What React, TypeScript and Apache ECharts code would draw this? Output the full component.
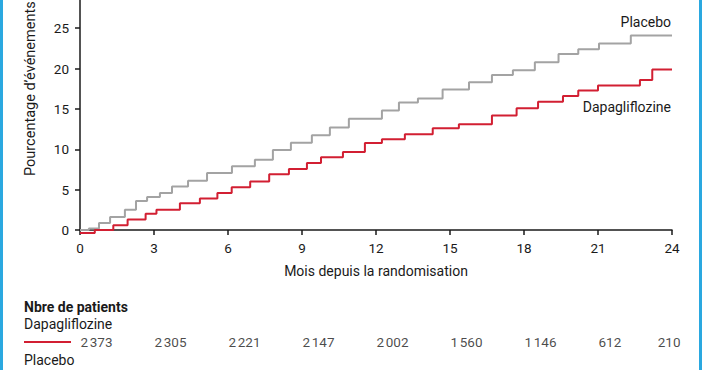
import React, { useEffect, useRef } from "react";
import * as echarts from "echarts";

// Kaplan-Meier style cumulative event curves (step points: time of jump, new value)
const placeboMonths = [0, 0.36, 0.77, 1.22, 1.82, 2.27, 2.72, 3.24, 3.73, 4.38, 5.15, 6.16, 7.09, 7.82, 8.55, 9.4, 10.13, 10.9, 12.24, 12.93, 13.7, 14.7, 15.77, 16.7, 17.55, 18.44, 19.4, 20.2, 21.04, 22.33, 24];
const placeboValues = [0, 0.2, 0.87, 1.6, 2.5, 3.6, 4.1, 4.6, 5.4, 6.1, 7.05, 7.9, 8.7, 9.9, 10.8, 11.75, 12.7, 13.8, 14.8, 15.8, 16.3, 17.4, 18.3, 19.2, 19.8, 20.8, 21.8, 22.4, 23.1, 24.1, 24.1];

const dapaMonths = [0, 0.6, 1.35, 1.93, 2.66, 3.1, 4.05, 4.86, 5.57, 6.15, 6.9, 7.67, 8.47, 9.2, 9.77, 10.66, 11.55, 12.24, 13.17, 14.3, 15.36, 16.7, 17.7, 18.57, 19.58, 20.2, 21.0, 22.7, 23.2, 24];
const dapaValues = [-0.37, 0, 0.6, 1.3, 2.0, 2.5, 3.3, 3.9, 4.6, 5.3, 6.0, 6.9, 7.55, 8.3, 9.03, 9.65, 10.77, 11.26, 11.85, 12.6, 13.1, 14.2, 15.1, 15.9, 16.6, 17.3, 17.9, 18.6, 19.9, 19.9];

const xTicks = [0, 3, 6, 9, 12, 15, 18, 21, 24];
const yTicks = [0, 5, 10, 15, 20, 25];
const atRiskDapa = ["2\u202F373", "2\u202F305", "2\u202F221", "2\u202F147", "2\u202F002", "1\u202F560", "1\u202F146", "612", "210"];

const FONT = "Roboto";
const TEXT = "#1a1a1a";
const GRAY = "#a3a3a3";
const RED = "#d21f32";
const BLUE = "#2aa8e0";

export default function App() {
  const ref = useRef<HTMLDivElement>(null);
  useEffect(() => {
    if (!ref.current) return;
    const chart = echarts.init(ref.current, undefined, { renderer: "svg" });
    const placeboData = placeboMonths.map((m, i) => [m, placeboValues[i]]);
    const dapaData = dapaMonths.map((m, i) => [m, dapaValues[i]]);
    const riskData = xTicks.map((m, i) => {
      const last = i === xTicks.length - 1;
      return {
        value: [m, 0.5],
        label: last
          ? { position: "left", distance: 0, offset: [9, 0] }
          : { position: "right", distance: 0 },
        name: atRiskDapa[i],
      };
    });
    chart.setOption({
      animation: false,
      textStyle: { fontFamily: FONT },
      grid: [
        { left: 80, right: 30, top: 0, height: 230, containLabel: false },
        { left: 80, right: 30, top: 330, height: 24, containLabel: false },
      ],
      xAxis: [
        {
          type: "value",
          min: 0,
          max: 24,
          interval: 3,
          gridIndex: 0,
          axisLine: { show: true, onZero: false, lineStyle: { color: TEXT, width: 1.5 } },
          axisTick: { show: true, length: 5, lineStyle: { color: TEXT, width: 1.5 } },
          axisLabel: { color: TEXT, fontSize: 13.5, margin: 11, fontFamily: FONT },
          splitLine: { show: false },
          name: "Mois depuis la randomisation",
          nameLocation: "middle",
          nameGap: 34,
          nameTextStyle: { color: TEXT, fontSize: 14, fontFamily: FONT },
        },
        { type: "value", min: 0, max: 24, gridIndex: 1, show: false },
      ],
      yAxis: [
        {
          type: "value",
          min: 0,
          max: 28.5,
          gridIndex: 0,
          axisLine: { show: true, lineStyle: { color: TEXT, width: 1.5 } },
          axisTick: { show: true, length: 5, customValues: yTicks, lineStyle: { color: TEXT, width: 1.5 } },
          axisLabel: { color: TEXT, fontSize: 13.5, margin: 11, customValues: yTicks, fontFamily: FONT },
          splitLine: { show: false },
        },
        { type: "value", min: 0, max: 1, gridIndex: 1, show: false },
      ],
      series: [
        {
          type: "line",
          name: "Placebo",
          step: "end",
          data: placeboData,
          showSymbol: false,
          symbol: "none",
          clip: false,
          lineStyle: { color: GRAY, width: 2 },
          z: 3,
        },
        {
          type: "line",
          name: "Dapagliflozine",
          step: "end",
          data: dapaData,
          showSymbol: false,
          symbol: "none",
          clip: false,
          lineStyle: { color: RED, width: 2 },
          z: 4,
        },
        {
          type: "scatter",
          xAxisIndex: 1,
          yAxisIndex: 1,
          symbolSize: 1,
          itemStyle: { color: "rgba(0,0,0,0)" },
          data: riskData,
          label: {
            show: true,
            formatter: (p: any) => p.name,
            color: TEXT,
            fontSize: 13.5,
            fontFamily: FONT,
            verticalAlign: "middle",
          },
          silent: true,
        },
      ],
      graphic: [
        { type: "rect", left: 0, top: 0, shape: { width: 3, height: 370 }, style: { fill: BLUE } },
        { type: "rect", left: 699, top: 0, shape: { width: 3, height: 370 }, style: { fill: BLUE } },
        {
          type: "text",
          x: 30,
          y: 176,
          rotation: Math.PI / 2,
          style: {
            text: "Pourcentage d\u2019événements",
            fill: TEXT,
            font: `14.5px ${FONT}`,
            align: "left",
            verticalAlign: "middle",
          },
        },
        {
          type: "text",
          x: 671,
          y: 22,
          style: { text: "Placebo", fill: TEXT, font: `14px ${FONT}`, align: "right", verticalAlign: "middle" },
        },
        {
          type: "text",
          x: 671,
          y: 107,
          style: { text: "Dapagliflozine", fill: TEXT, font: `14px ${FONT}`, align: "right", verticalAlign: "middle" },
        },
        {
          type: "text",
          x: 24,
          y: 307,
          style: { text: "Nbre de patients", fill: TEXT, font: `bold 14px ${FONT}`, align: "left", verticalAlign: "middle" },
        },
        {
          type: "text",
          x: 24,
          y: 324,
          style: { text: "Dapagliflozine", fill: TEXT, font: `14px ${FONT}`, align: "left", verticalAlign: "middle" },
        },
        {
          type: "line",
          shape: { x1: 24, y1: 342, x2: 71, y2: 342 },
          style: { stroke: RED, lineWidth: 2 },
        },
        {
          type: "text",
          x: 24,
          y: 360,
          style: { text: "Placebo", fill: TEXT, font: `14px ${FONT}`, align: "left", verticalAlign: "middle" },
        },
      ],
    });
    return () => chart.dispose();
  }, []);
  return (
    <div
      ref={ref}
      style={{ position: "fixed", left: 0, top: 0, width: 702, height: 370, background: "#fff" }}
    />
  );
}
